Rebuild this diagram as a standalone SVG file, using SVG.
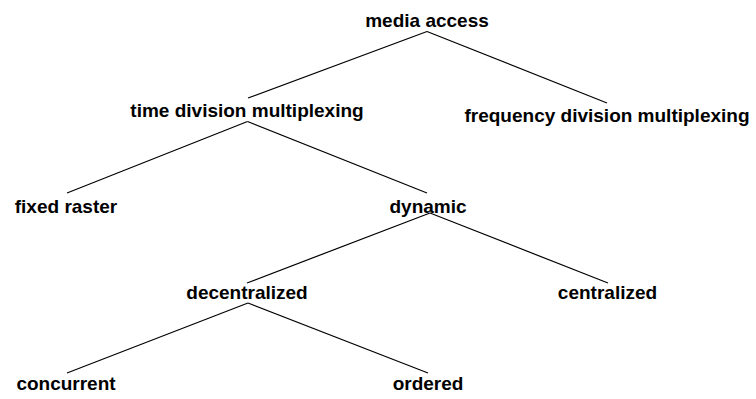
<svg xmlns="http://www.w3.org/2000/svg" width="756" height="399" viewBox="0 0 756 399">
<style>
text{font-family:"Liberation Sans",Arial,sans-serif;font-weight:bold;font-size:19px;text-anchor:middle;fill:#000}
.e line{stroke:#000;stroke-width:1.2}
</style>
<rect width="756" height="399" fill="#fff"/>
<g id="connectors" class="e">
<line x1="427" y1="31.5" x2="248" y2="98"/>
<line x1="427" y1="31.5" x2="607" y2="103"/>
<line x1="247.5" y1="121.5" x2="67" y2="193"/>
<line x1="247.5" y1="121.5" x2="427" y2="193"/>
<line x1="430" y1="213" x2="247" y2="283"/>
<line x1="430" y1="213" x2="608" y2="283"/>
<line x1="248" y1="303" x2="67" y2="373"/>
<line x1="248" y1="303" x2="428" y2="373"/>
</g>
<g id="media-access"><text x="427" y="27">media access</text></g>
<g id="tdm"><text x="247" y="117">time division multiplexing</text></g>
<g id="fdm"><text x="607" y="122">frequency division multiplexing</text></g>
<g id="fixed-raster"><text x="66" y="213">fixed raster</text></g>
<g id="dynamic"><text x="428" y="213">dynamic</text></g>
<g id="decentralized"><text x="247" y="299">decentralized</text></g>
<g id="centralized"><text x="607.5" y="299">centralized</text></g>
<g id="concurrent"><text x="66" y="390">concurrent</text></g>
<g id="ordered"><text x="428" y="390">ordered</text></g>
</svg>
